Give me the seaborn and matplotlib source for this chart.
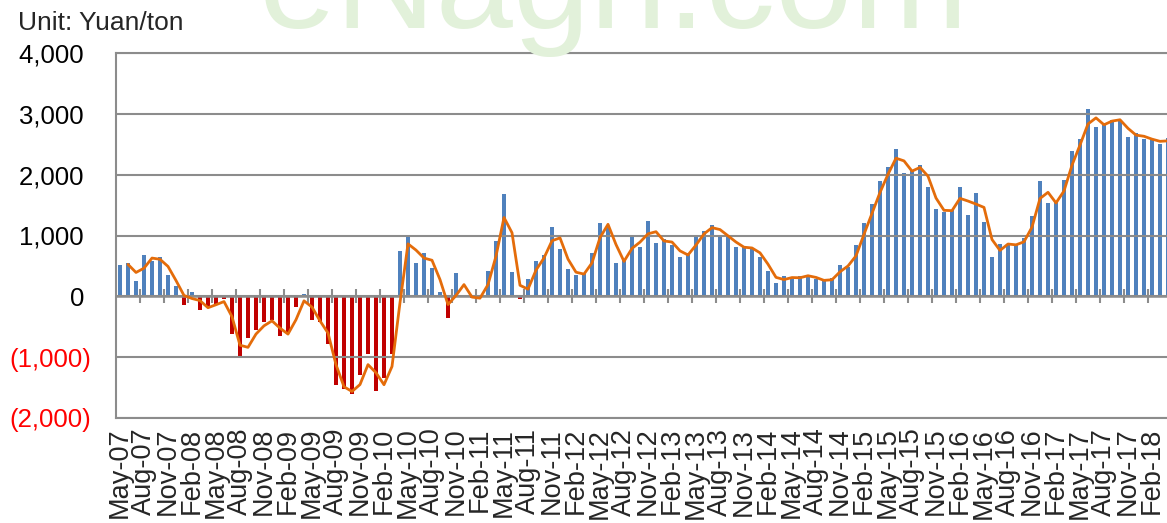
import numpy as np
import pandas as pd
import matplotlib
matplotlib.use("Agg")
import matplotlib.pyplot as plt
import seaborn as sns

# monthly spread, May-07 .. Apr-18 (Yuan/ton)
months = pd.date_range("2007-05-01", periods=132, freq="MS").strftime("%b-%y").tolist()
values = np.array([
    510, 540, 245, 680, 578, 640, 343, 178, -150, 78, -218, -156,
    -120, -52, -618, -989, -688, -552, -417, -389, -656, -585, -183, 35,
    -389, -417, -789, -1456, -1517, -1611, -1289, -956, -1556, -1350, -956, 750,
    975, 545, 713, 473, 78, -348, 376, 10, -35, -25, 410, 910,
    1682, 408, -45, 280, 581, 682, 1145, 777, 447, 346, 385, 715,
    1212, 1156, 547, 603, 972, 810, 1245, 880, 940, 845, 650, 710,
    975, 1078, 1180, 1015, 975, 810, 805, 785, 645, 412, 212, 339,
    278, 333, 344, 278, 247, 298, 508, 490, 840, 1199, 1525, 1890,
    2122, 2420, 2033, 2083, 2155, 1796, 1436, 1392, 1425, 1796, 1337, 1696,
    1227, 641, 868, 852, 841, 952, 1323, 1893, 1527, 1544, 1920, 2391,
    2584, 3083, 2784, 2856, 2905, 2900, 2623, 2678, 2584, 2584, 2512, 2600,
])
y_ticks = [-2000, -1000, 0, 1000, 2000, 3000, 4000]

BLUE = "#4F81BD"
RED = "#C00000"
ORANGE = "#E46C0A"
GRAY = "#8C8C8C"

df = pd.DataFrame({"month": months, "value": values})
df["sign"] = np.where(df["value"] < 0, "neg", "pos")
# Excel style 2-period moving average trendline
df["ma"] = df["value"].rolling(2).mean()
df["pos"] = np.arange(len(df))

sns.set_style("white")
plt.rcParams["font.family"] = ["Liberation Sans", "DejaVu Sans"]

fig = plt.figure(figsize=(11.67, 5.23), dpi=100)
ax = fig.add_axes([116 / 1167, 105 / 523, 1056 / 1167, 365 / 523])

# no white patch edges from the seaborn style
sns.barplot(data=df, x="month", y="value", hue="sign",
            palette={"pos": BLUE, "neg": RED}, dodge=False, width=0.55,
            saturation=1, legend=False, linewidth=0, ax=ax)
sns.lineplot(data=df, x="pos", y="ma", color=ORANGE, lw=2.0, ax=ax, zorder=4)

ax.set_xlim(-0.5, 131.5)
ax.set_ylim(-2000, 4000)
ax.set_xlabel("")
ax.set_ylabel("")

# y axis: Excel accounting style, negatives red in brackets
ax.set_yticks(y_ticks)
ylabels = [f"({abs(v):,})" if v < 0 else f"{v:,} " for v in y_ticks]
ax.set_yticklabels(ylabels, fontsize=18.5)
for lab, v in zip(ax.get_yticklabels(), y_ticks):
    lab.set_color("#FF0000" if v < 0 else "black")

ax.set_xticks(df["pos"][::3])
ax.set_xticklabels(df["month"][::3], rotation=90, fontsize=19.5)
ax.tick_params(axis="x", length=0, pad=7)
ax.tick_params(axis="y", length=0, pad=18)

# gridlines sit over the bars, under the trend line
ax.grid(axis="y", color=GRAY, lw=1.5, zorder=2.5)
ax.grid(axis="x", visible=False)
ax.set_axisbelow(False)
for sp in ax.spines.values():
    sp.set_color(GRAY)
    sp.set_linewidth(1.5)

# category axis crossing at zero, ticks between every 3rd month
sec = ax.secondary_xaxis(1 / 3)
sec.set_xticks(np.arange(2.5, 131, 3))
sec.tick_params(direction="inout", length=10, width=1.5, color=GRAY,
                labelbottom=False, labeltop=False)
sec.spines["bottom"].set_color(GRAY)
sec.spines["bottom"].set_linewidth(1.8)
sec.set_zorder(3)

fig.text(18 / 1167, 1 - 30 / 523, "Unit: Yuan/ton", fontsize=19,
         va="baseline", ha="left")
# faint site watermark at the top edge
fig.text(0.525, 1 - 28 / 523, "eNagri.com", fontsize=100, color="#E2F1DA",
         va="baseline", ha="center", zorder=0)

fig.savefig("out.png", dpi=100)
